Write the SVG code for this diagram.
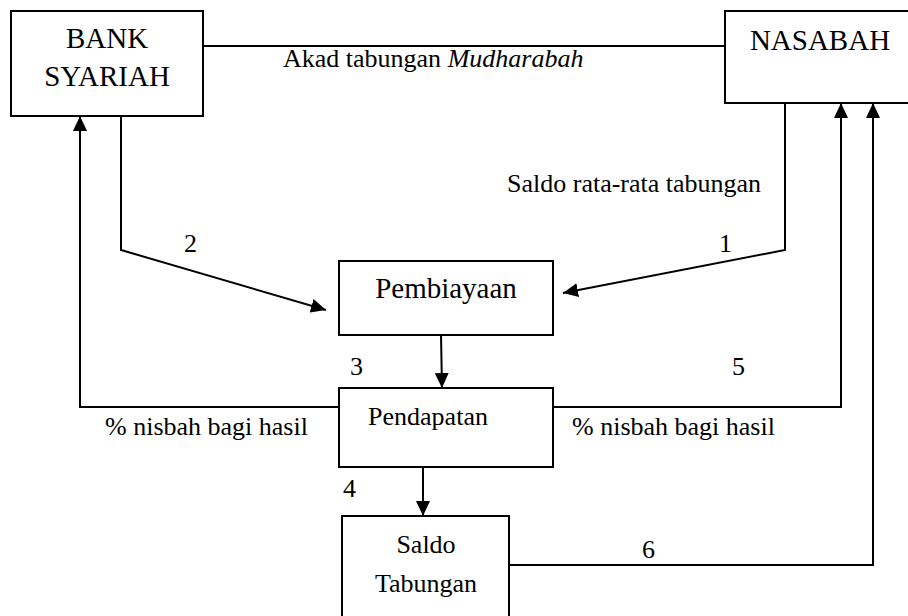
<svg xmlns="http://www.w3.org/2000/svg" width="908" height="616" viewBox="0 0 908 616" font-family="'Liberation Serif', 'Times New Roman', serif">
<defs>
<marker id="ah" markerUnits="userSpaceOnUse" markerWidth="16" markerHeight="14" refX="15" refY="7" orient="auto">
<path d="M0,0 L15,7 L0,14 Z" fill="#000"/>
</marker>
</defs>
<style>
.box{fill:#fff;stroke:#000;stroke-width:2}
.ln{fill:none;stroke:#000;stroke-width:2}
text{font-family:'Liberation Serif','Times New Roman',serif;fill:#000}
</style>
<rect width="908" height="616" fill="#fff"/>
<g id="connectors">
<line class="ln" x1="203" y1="46" x2="725" y2="46"/>
<polyline class="ln" points="785,103 785,250 563,293" marker-end="url(#ah)"/>
<polyline class="ln" points="121,116 121,250 326,310" marker-end="url(#ah)"/>
<line class="ln" x1="441" y1="335" x2="442" y2="388" marker-end="url(#ah)"/>
<line class="ln" x1="423" y1="467" x2="423" y2="516" marker-end="url(#ah)"/>
<polyline class="ln" points="339,407 80,407 80,116" marker-end="url(#ah)"/>
<polyline class="ln" points="553,407 841,407 841,103" marker-end="url(#ah)"/>
<polyline class="ln" points="509,565 873,565 873,103" marker-end="url(#ah)"/>
<text font-family="Liberation Serif, serif" font-size="26" x="283" y="67">Akad tabungan <tspan font-style="italic">Mudharabah</tspan></text>
<text font-family="Liberation Serif, serif" font-size="26" x="507" y="192">Saldo rata-rata tabungan</text>
<text font-family="Liberation Serif, serif" font-size="26" x="184" y="252">2</text>
<text font-family="Liberation Serif, serif" font-size="26" x="719" y="252">1</text>
<text font-family="Liberation Serif, serif" font-size="26" x="350" y="375">3</text>
<text font-family="Liberation Serif, serif" font-size="26" x="732" y="375">5</text>
<text font-family="Liberation Serif, serif" font-size="26" x="343" y="497">4</text>
<text font-family="Liberation Serif, serif" font-size="26" x="642" y="558">6</text>
<text font-family="Liberation Serif, serif" font-size="26" x="105" y="435">% nisbah bagi hasil</text>
<text font-family="Liberation Serif, serif" font-size="26" x="572" y="435">% nisbah bagi hasil</text>
</g>
<g id="bank-syariah">
<rect class="box" x="11" y="11" width="192" height="105"/>
<text font-family="Liberation Serif, serif" font-size="29" x="107" y="48" text-anchor="middle">BANK</text>
<text font-family="Liberation Serif, serif" font-size="29" x="107" y="86" text-anchor="middle">SYARIAH</text>
</g>
<g id="nasabah">
<rect class="box" x="725" y="11" width="200" height="92"/>
<text font-family="Liberation Serif, serif" font-size="29" x="820" y="50" text-anchor="middle">NASABAH</text>
</g>
<g id="pembiayaan">
<rect class="box" x="339" y="261" width="214" height="74"/>
<text font-family="Liberation Serif, serif" font-size="29" x="446" y="298" text-anchor="middle">Pembiayaan</text>
</g>
<g id="pendapatan">
<rect class="box" x="339" y="388" width="214" height="79"/>
<text font-family="Liberation Serif, serif" font-size="26" x="428" y="425" text-anchor="middle">Pendapatan</text>
</g>
<g id="saldo-tabungan">
<rect class="box" x="342" y="516" width="167" height="110"/>
<text font-family="Liberation Serif, serif" font-size="26" x="426" y="553" text-anchor="middle">Saldo</text>
<text font-family="Liberation Serif, serif" font-size="26" x="426" y="592" text-anchor="middle">Tabungan</text>
</g>
</svg>
